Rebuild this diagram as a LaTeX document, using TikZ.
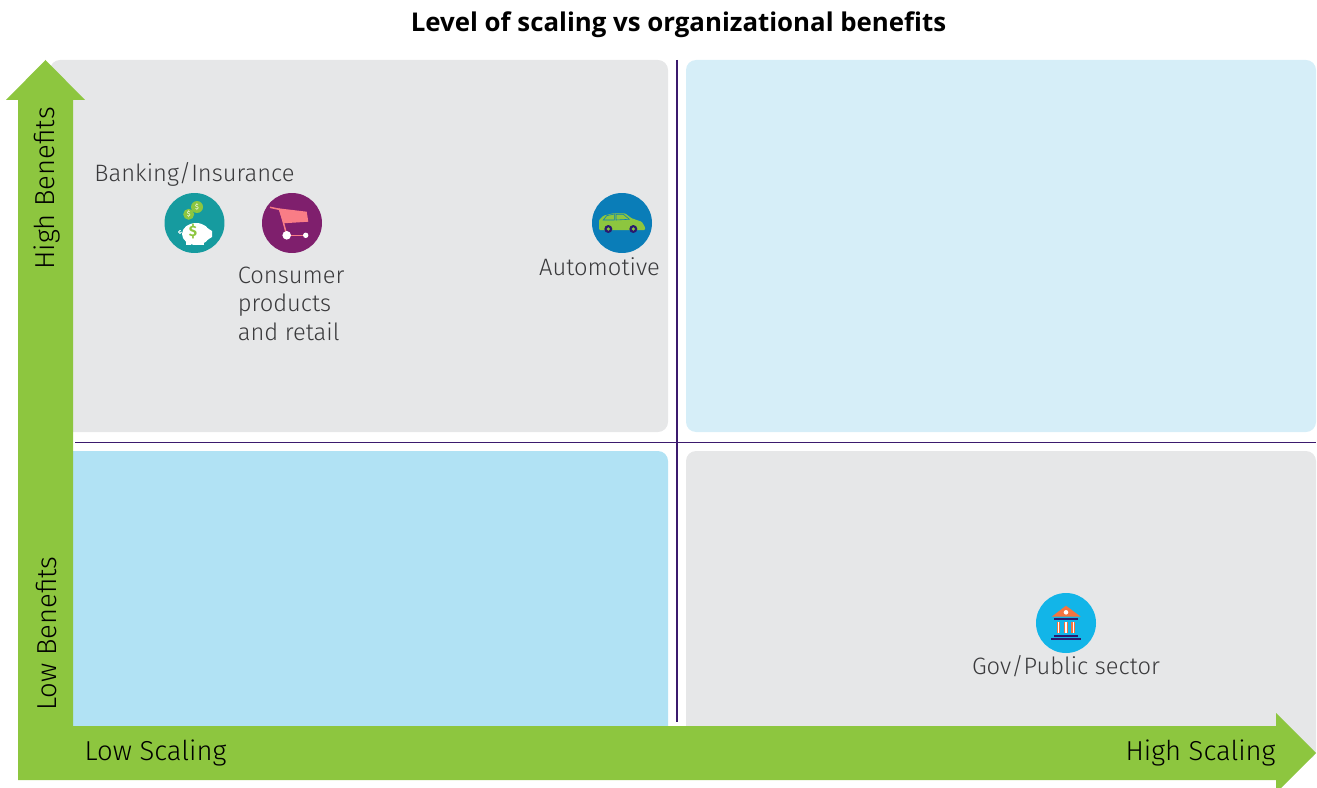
\documentclass[tikz,border=0pt]{standalone}
\usepackage{fontspec}
\setmainfont{Fira Sans}
\newfontfamily\lightfont[UprightFont={* Light}]{Fira Sans}
\newfontfamily\titlefont{Open Sans}
\definecolor{quadgrey}{HTML}{E6E7E8}
\definecolor{quadpale}{HTML}{D6EEF8}
\definecolor{quadblue}{HTML}{B1E2F4}
\definecolor{axisgreen}{HTML}{8DC63F}
\definecolor{divider}{HTML}{3B1A6E}
\definecolor{navy}{HTML}{2A1A6E}
\definecolor{tealicon}{HTML}{169B9F}
\definecolor{purpleicon}{HTML}{7F1F6D}
\definecolor{blueicon}{HTML}{0A7DB8}
\definecolor{cyanicon}{HTML}{12B5E8}
\definecolor{cartpink}{HTML}{F97D86}
\definecolor{roofred}{HTML}{F4733F}
\definecolor{sectortext}{HTML}{3A3A3C}
\tikzset{
	quad/.style={rounded corners=0.2cm},
	sector/.style={inner sep=0pt,text=sectortext,font=\lightfont\fontsize{13.5}{16.2}\selectfont,align=left},
	axislabel/.style={inner sep=0pt,text=black,font=\lightfont\fontsize{15.6}{18}\selectfont},
	iconbase/.style={circle,inner sep=0pt,minimum size=1.2cm},
}
\begin{document}
\begin{tikzpicture}[x=0.02cm,y=-0.02cm]
	
	\clip (0,0) rectangle (1317,787);
	
	\node(title) [inner sep=0pt,font=\titlefont\bfseries\fontsize{14.7}{17}\selectfont] at (678.5,25) {Level of scaling vs organizational benefits};
	
	\fill[quad,quadgrey] (50,60) rectangle (668,432);
	
	\fill[quad,quadpale] (686,60) rectangle (1316,432);
	
	\fill[quad,quadblue] (50,451) rectangle (668,760);
	
	\fill[quad,quadgrey] (686,451) rectangle (1316,760);
	
	\coordinate (topdivider) at (677,60);
	\coordinate (bottomdivider) at (677,722);
	\coordinate (leftdivider) at (75,442.5);
	\coordinate (rightdivider) at (1316,442.5);
	
	\draw[divider,line width=0.03cm] (topdivider) -- (bottomdivider);
	
	\draw[divider,line width=0.03cm] (leftdivider) -- (rightdivider);
	
	\fill[axisgreen] (18,780) -- (18,100) -- (6,100) -- (45.5,60) -- (85,100) -- (73,100) -- (73,726)
	-- (1276,726) -- (1276,713) -- (1316,753) -- (1276,793) -- (1276,780) -- cycle;
	
	\node(highbenefits) [axislabel,rotate=90] at (47,188.5) {High Benefits};
	
	\node(lowbenefits) [axislabel,rotate=90] at (46,633.5) {Low Benefits};
	
	\node(lowscaling) [axislabel] at (155.5,753) {Low Scaling};
	
	\node(highscaling) [axislabel] at (1200.5,753) {High Scaling};
	
	% banking
	\node(bankinglabel) [sector] at (194.5,174) {Banking/Insurance};
	
	\node(bankingicon) [iconbase,fill=tealicon] at (194.5,223) {};
	
	\fill[axisgreen] (188.7,214.3) circle (5.5);
	\fill[axisgreen] (197,207) circle (6);
	\node(coinleft) [inner sep=0pt,text=white,font=\fontsize{4}{4}\selectfont] at (188.7,214.3) {\$};
	\node(coinright) [inner sep=0pt,text=white,font=\fontsize{4}{4}\selectfont] at (197,207) {\$};
	\fill[white] (196,234) ellipse (14 and 11);
	\fill[white] (204,226) -- (212,231) -- (212,237) -- (204,242) -- cycle;
	\fill[white] (186,241) rectangle (191,245);
	\fill[white] (199,241) rectangle (204,245);
	\draw[white,line width=0.015cm] (181.5,232) arc (0:300:1.5);
	\node(pigdollar) [inner sep=0pt,text=axisgreen,font=\bfseries\fontsize{8.5}{9}\selectfont] at (193,232) {\$};
	
	% retail
	\node(consumerlabel) [sector,anchor=north west] at (237.5,266.5) {Consumer\\products\\and retail};
	
	\node(consumericon) [iconbase,fill=purpleicon] at (292,223) {};
	
	\fill[cartpink] (278.3,208.3) -- (306.7,211.7) -- (308.3,221.7) -- (283.3,223.3) -- cycle;
	\draw[cartpink,line width=0.03cm] (270,207.3) -- (280,209.5) -- (286.7,235);
	\draw[cartpink,line width=0.03cm] (286.7,235.3) -- (305.7,235.3);
	\fill[white] (286.7,235.3) circle (4.3);
	\fill[white] (305.7,235.3) circle (2.7);
	
	% automotive
	\node(autolabel) [sector] at (599.5,267) {Automotive};
	
	\node(autoicon) [iconbase,fill=blueicon] at (622,223) {};
	
	\fill[axisgreen,rounded corners=0.02cm] (599,230) -- (599,220) -- (603.3,215.7) -- (613.3,213.3) -- (625,213.3) -- (631.7,218.3) -- (641.7,221.7) -- (645,227) -- (645,230) -- cycle;
	\draw[blueicon,line width=0.012cm] (603.3,220) -- (606.7,215.7) -- (614.3,214) -- (614.3,220) -- cycle;
	\draw[blueicon,line width=0.012cm] (616,220) -- (616,214.3) -- (623.3,214.3) -- (629.3,219.3) -- cycle;
	\fill[navy] (608.3,229) circle (4);
	\fill[navy] (633.3,229) circle (4);
	\fill[axisgreen] (608.3,229) circle (1.8);
	\fill[axisgreen] (633.3,229) circle (1.8);
	
	% public sector
	\node(govlabel) [sector] at (1066,666) {Gov/Public sector};
	
	\node(govicon) [iconbase,fill=cyanicon] at (1066,623) {};
	
	\fill[roofred] (1051.7,616.7) -- (1066,605.7) -- (1080.7,616.7) -- cycle;
	\fill[white] (1066,612.3) circle (2.3);
	\fill[navy] (1054.3,618.3) rectangle (1077.7,620.3);
	\foreach \colx in {1056.7,1064.2,1071.3}{
		\fill[roofred] (\colx,622.3) rectangle ++(3.6,11);
		\fill[white] (\colx+1.2,622.3) rectangle ++(1.2,11);
	}
	\fill[navy] (1054,634.7) rectangle (1078.3,636.7);
	\fill[navy] (1051,638.3) rectangle (1081,640.3);
	
\end{tikzpicture}
\end{document}
